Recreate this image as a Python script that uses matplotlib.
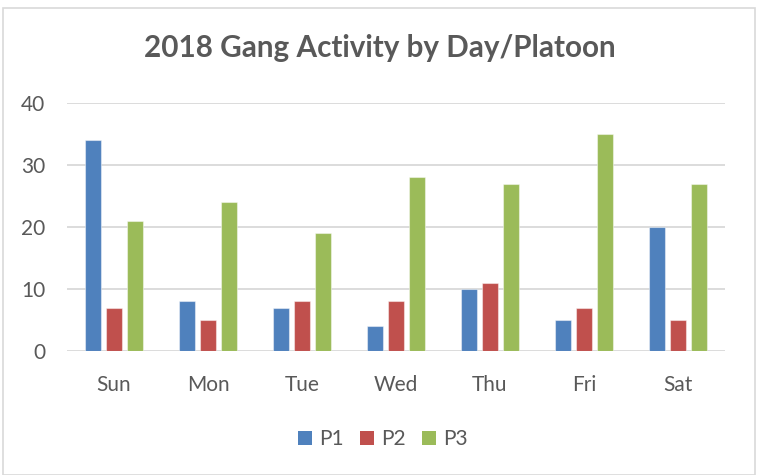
import matplotlib
matplotlib.use("Agg")
import matplotlib.pyplot as plt
from matplotlib.patches import Rectangle, Patch
import numpy as np

days = ["Sun", "Mon", "Tue", "Wed", "Thu", "Fri", "Sat"]
p1 = [34, 8, 7, 4, 10, 5, 20]
p2 = [7, 5, 8, 8, 11, 7, 5]
p3 = [21, 24, 19, 28, 27, 35, 27]
series_names = ["P1", "P2", "P3"]
colors = ["#4F81BD", "#C0504D", "#9BBB59"]
y_ticks = [0, 10, 20, 30, 40]

plt.rcParams["font.family"] = ["Lato", "DejaVu Sans"]
text_color = "#595959"
grid_color = "#D9D9D9"

W, H = 760, 475
fig = plt.figure(figsize=(W / 100, H / 100), dpi=100)

# chart-area frame
fig.patches.append(Rectangle((3 / W, 0), (755 - 3) / W, 1 - 8 / H,
                             transform=fig.transFigure, fill=False,
                             edgecolor=grid_color, linewidth=1.2))

left, right, top, bottom = 67, 725, 103, 351
ax = fig.add_axes([left / W, 1 - bottom / H, (right - left) / W, (bottom - top) / H])

x = np.arange(len(days))
width = 0.17
pitch = 0.223
for i, (vals, name, c) in enumerate(zip([p1, p2, p3], series_names, colors)):
    ax.bar(x + (i - 1) * pitch, vals, width=width, color=c, label=name,
           edgecolor=(1, 1, 1, 0.45), linewidth=0.8, zorder=3)

ax.set_xlim(-0.5, len(days) - 0.5)
ax.set_ylim(0, 40)
ax.set_yticks(y_ticks)
ax.set_xticks(x)
ax.set_xticklabels(days)
ax.yaxis.grid(True, color=grid_color, linewidth=1.3, zorder=0)
ax.set_axisbelow(True)
for s in ax.spines.values():
    s.set_visible(False)
ax.tick_params(axis="both", length=0, labelsize=15, labelcolor=text_color)
ax.tick_params(axis="y", pad=15.5)
ax.tick_params(axis="x", pad=17)

fig.text(380 / W, 1 - 48 / H, "2018 Gang Activity by Day/Platoon",
         ha="center", va="center", fontsize=21.3, fontweight="bold", color=text_color)

handles = [Patch(facecolor=c, edgecolor="none") for c in colors]
leg = fig.legend(handles, series_names, loc="center", bbox_to_anchor=(383 / W, 1 - 439 / H),
                 ncol=3, frameon=False, fontsize=15, handlelength=0.65, handleheight=0.65,
                 handletextpad=0.35, columnspacing=0.8)
for t in leg.get_texts():
    t.set_color(text_color)

fig.savefig("out.png", dpi=100, facecolor="white")
